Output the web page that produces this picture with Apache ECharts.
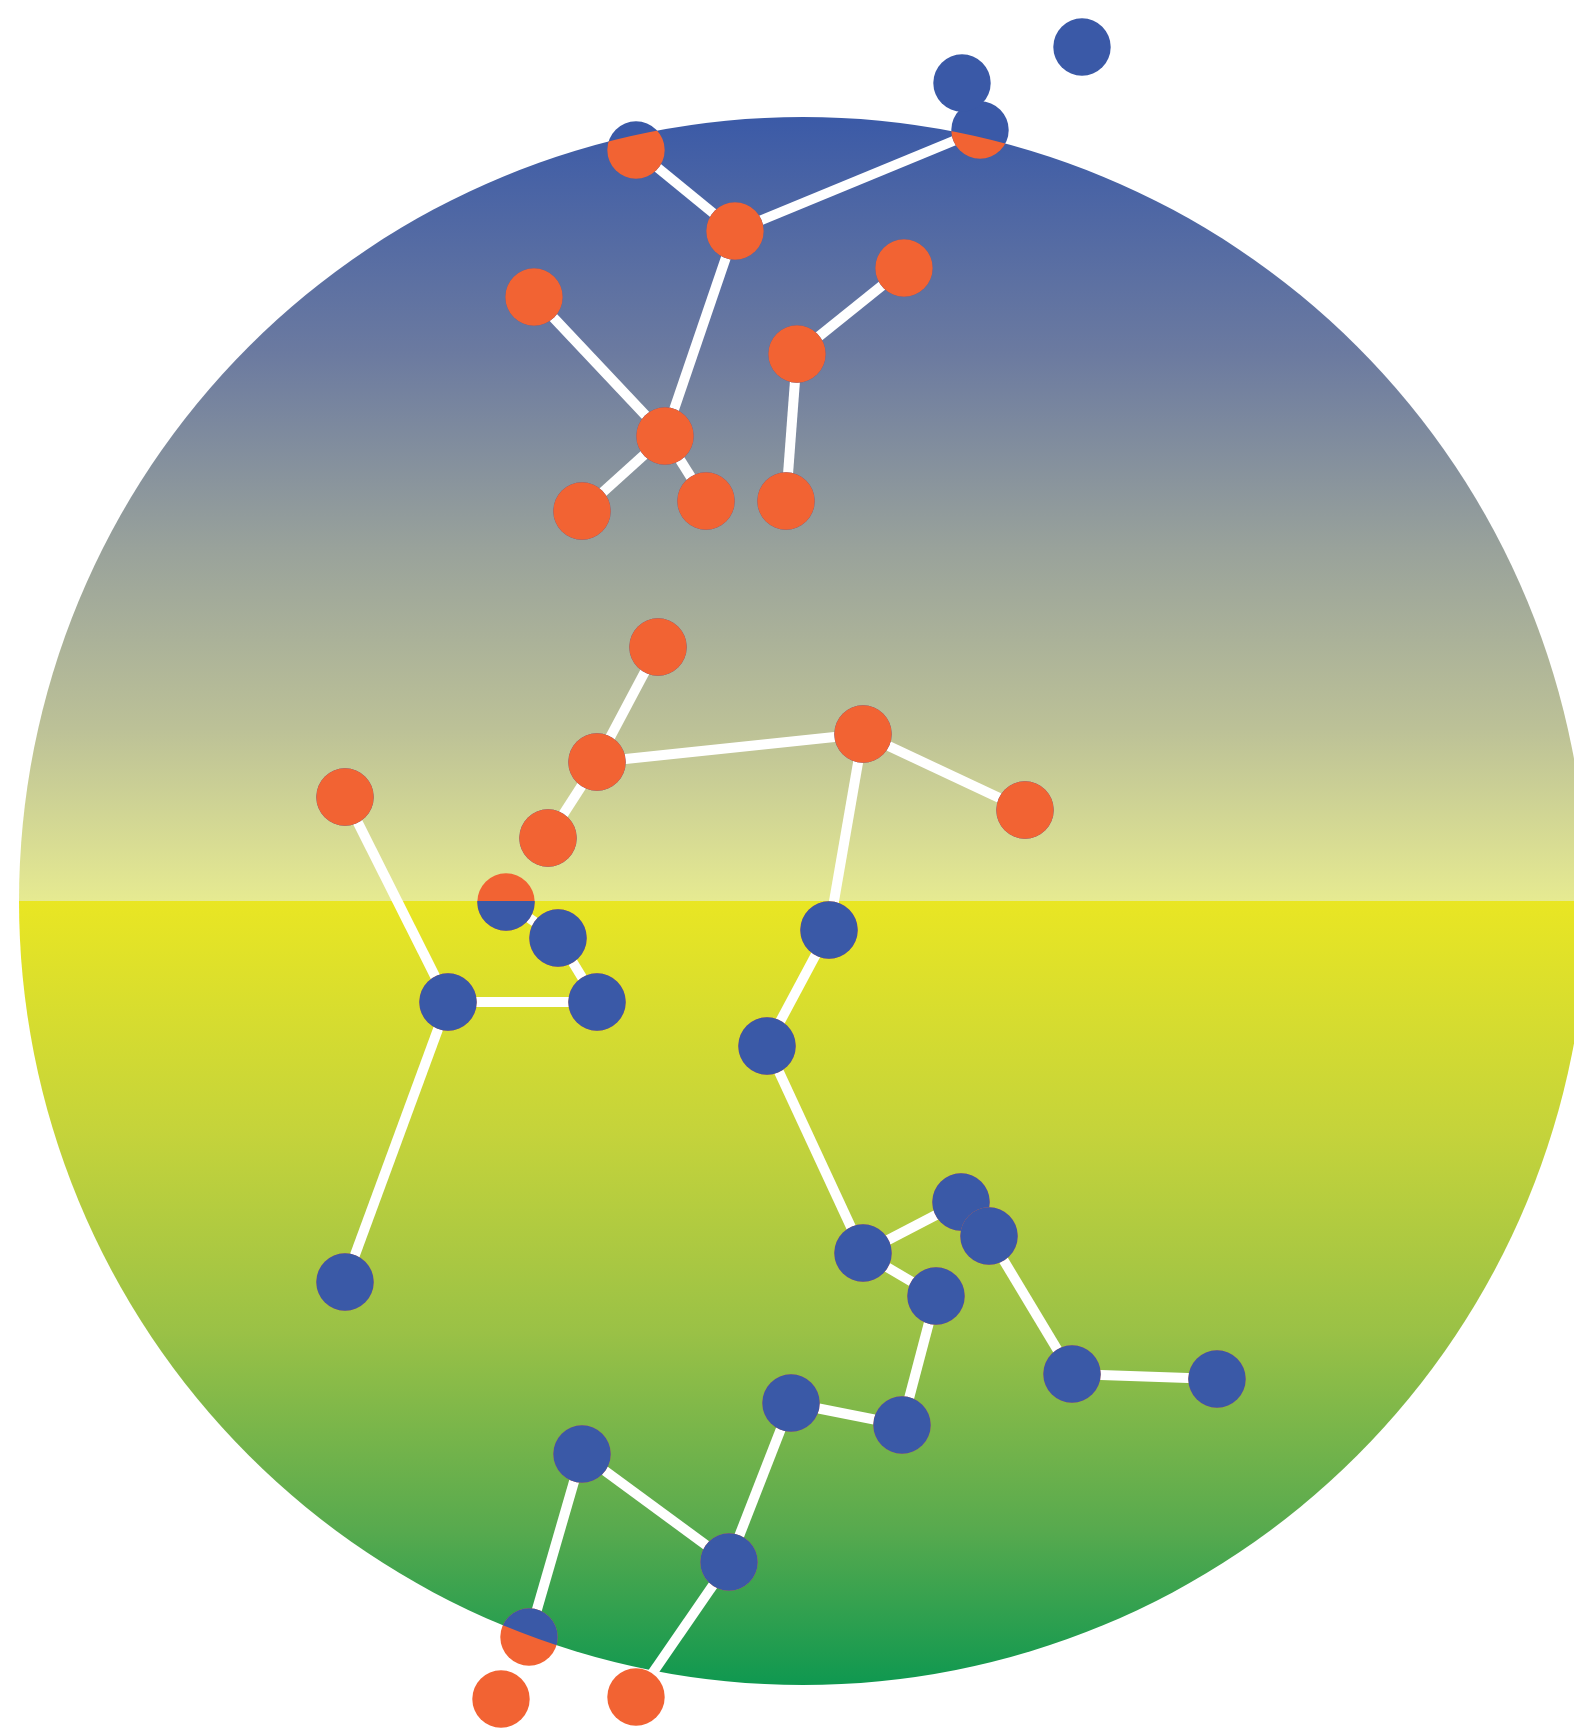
<!DOCTYPE html>
<html>
<head>
<meta charset="utf-8">
<script src="https://cdn.jsdelivr.net/npm/echarts@6/dist/echarts.min.js"></script>
<style>
html,body{margin:0;padding:0;background:#ffffff;}
#chart{width:1574px;height:1729px;}
</style>
</head>
<body>
<div id="chart"></div>
<script>
// ---- data ----
const nodeNames = ['A','B','C','D','E','F','G','H','I','J','K','L','M','N','O','P','Q','R','S','T','U','V','W','X','Y','Z','AA','AB','AC','AD','AE','AF','AG','AH','AI','AJ','AK','AL'];
const nodeX = [636,735,980,665,534,582,706,797,904,786,962,1082,658,597,863,548,1025,829,767,863,961,936,989,1072,1217,902,791,729,582,529,636,345,448,597,345,506,558,501];
const nodeY = [150,231,130,436,297,511,501,354,268,501,83,47,647,762,734,838,810,930,1046,1253,1202,1296,1236,1374,1379,1425,1403,1562,1454,1637,1697,797,1002,1002,1282,902,938,1699];
const edgeFrom = ['A','B','B','D','D','D','H','H','M','N','N','O','O','R','S','T','T','U','W','X','V','Z','AA','AB','AC','AB','AF','AG','AG','AJ','AK'];
const edgeTo   = ['B','C','D','E','F','G','I','J','N','O','P','Q','R','S','T','U','V','W','X','Y','Z','AA','AB','AC','AD','AE','AG','AH','AI','AK','AH'];
const discCenter = [803, 901];
const discRadius = [784];

// ---- styles ----
const ORANGE = '#f26333';
const BLUE = '#3a59a7';
const NODE_R = 28.7;

const chart = echarts.init(document.getElementById('chart'), null, {renderer: 'canvas'});

const nodeData = nodeNames.map((n, i) => [nodeX[i], nodeY[i]]);
const idx = {};
nodeNames.forEach((n, i) => idx[n] = i);
const edgeData = edgeFrom.map((f, i) => ({
  coords: [[nodeX[idx[f]], nodeY[idx[f]]], [nodeX[idx[edgeTo[i]]], nodeY[idx[edgeTo[i]]]]]
}));

function topGrad() {
  return new echarts.graphic.LinearGradient(0, 0, 0, 1, [
    {offset: 0, color: '#3b5aa7'},
    {offset: 0.3, color: '#6b7aa0'},
    {offset: 0.55, color: '#99a29b'},
    {offset: 0.78, color: '#bcc197'},
    {offset: 1, color: '#e6ea91'}
  ]);
}
function botGrad() {
  return new echarts.graphic.LinearGradient(0, 0, 0, 1, [
    {offset: 0, color: '#e9e623'},
    {offset: 0.3, color: '#c4d33b'},
    {offset: 0.55, color: '#9ac146'},
    {offset: 0.8, color: '#58aa4e'},
    {offset: 1, color: '#0f9850'}
  ]);
}

const option = {
  animation: false,
  backgroundColor: '#ffffff',
  grid: {left: 0, right: 0, top: 0, bottom: 0},
  xAxis: {type: 'value', min: 0, max: 1574, show: false},
  yAxis: {type: 'value', min: 0, max: 1729, inverse: true, show: false},
  series: [
    {
      type: 'custom',
      coordinateSystem: 'cartesian2d',
      z: 1,
      silent: true,
      data: [[discCenter[0], discCenter[1], discRadius[0]]],
      renderItem: function (params, api) {
        const c = api.coord([api.value(0), api.value(1)]);
        const r = Math.abs(api.size([api.value(2), 0])[0]);
        return {
          type: 'group',
          children: [
            {type: 'sector', shape: {cx: c[0], cy: c[1], r: r, r0: 0, startAngle: Math.PI, endAngle: Math.PI * 2, clockwise: true}, style: {fill: topGrad()}},
            {type: 'sector', shape: {cx: c[0], cy: c[1], r: r, r0: 0, startAngle: 0, endAngle: Math.PI, clockwise: true}, style: {fill: botGrad()}}
          ]
        };
      }
    },
    {
      type: 'lines',
      coordinateSystem: 'cartesian2d',
      z: 2,
      silent: true,
      data: edgeData,
      lineStyle: {color: '#ffffff', width: 10, opacity: 1, curveness: 0}
    },
    {
      type: 'custom',
      coordinateSystem: 'cartesian2d',
      z: 3,
      silent: true,
      data: nodeData,
      renderItem: function (params, api) {
        const p = api.coord([api.value(0), api.value(1)]);
        const cc = api.coord(discCenter);
        const R = Math.abs(api.size([discRadius[0], 0])[0]);
        const below = p[1] >= cc[1];
        const clip = {
          type: 'sector',
          shape: {cx: cc[0], cy: cc[1], r: R, r0: 0,
            startAngle: below ? 0 : Math.PI, endAngle: below ? Math.PI : Math.PI * 2, clockwise: true}
        };
        return {
          type: 'group',
          children: [
            {type: 'circle', shape: {cx: p[0], cy: p[1], r: NODE_R}, style: {fill: below ? ORANGE : BLUE}},
            {type: 'circle', shape: {cx: p[0], cy: p[1], r: NODE_R}, style: {fill: below ? BLUE : ORANGE}, clipPath: clip}
          ]
        };
      }
    }
  ]
};
chart.setOption(option);
</script>
</body>
</html>
